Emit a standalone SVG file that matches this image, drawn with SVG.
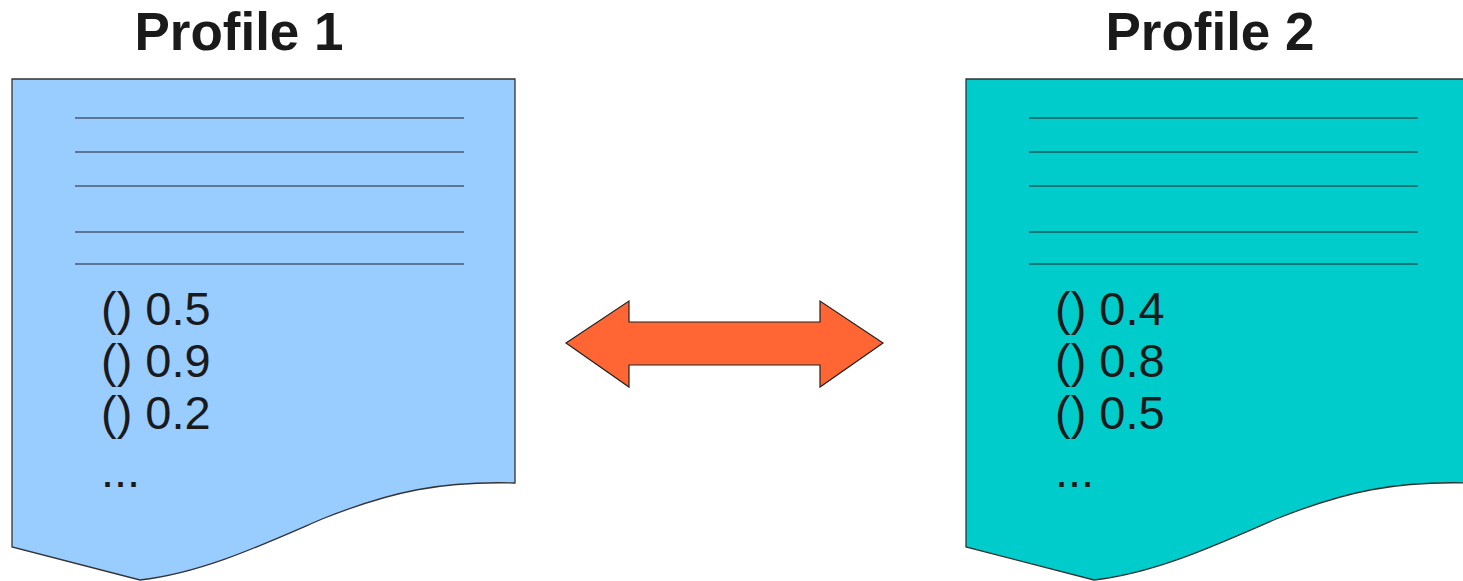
<svg xmlns="http://www.w3.org/2000/svg" width="1463" height="581" viewBox="0 0 1463 581">
  <style>
    .doc { stroke: #333333; stroke-width: 1.3; }
    .rule { stroke: #222222; stroke-width: 1.2; }
    .title { font-family: "Liberation Sans", Arial, sans-serif; font-weight: bold; font-size: 53px; fill: #1a1a1a; text-anchor: middle; }
    .val { font-family: "Liberation Sans", Arial, sans-serif; font-size: 47px; fill: #1a1a1a; }
  </style>
  <defs>
    <!-- document shape with wavy bottom edge -->
    <path id="docShape" d="M0,0 H503 V404 C430,402 380,412 310,440 C250,466 190,494 128,501 L0,468 Z"/>
    <g id="docRules">
      <line x1="63" y1="39" x2="452" y2="39"/>
      <line x1="63" y1="73" x2="452" y2="73"/>
      <line x1="63" y1="107" x2="452" y2="107"/>
      <line x1="63" y1="153" x2="452" y2="153"/>
      <line x1="63" y1="185" x2="452" y2="185"/>
    </g>
  </defs>

  <rect width="1463" height="581" fill="#ffffff"/>

  <g id="profile1">
    <text class="title" x="239" y="50">Profile 1</text>
    <use href="#docShape" x="12" y="79" class="doc" fill="#99ccff"/>
    <use href="#docRules" x="12" y="79" class="rule"/>
    <text class="val" x="101" y="325">() 0.5</text>
    <text class="val" x="101" y="377">() 0.9</text>
    <text class="val" x="101" y="429">() 0.2</text>
    <text class="val" x="101" y="487">...</text>
  </g>

  <g id="profile2">
    <text class="title" x="1210" y="50">Profile 2</text>
    <use href="#docShape" x="966" y="79" class="doc" fill="#00cccc"/>
    <use href="#docRules" x="966" y="79" class="rule"/>
    <text class="val" x="1055" y="325">() 0.4</text>
    <text class="val" x="1055" y="377">() 0.8</text>
    <text class="val" x="1055" y="429">() 0.5</text>
    <text class="val" x="1055" y="487">...</text>
  </g>

  <g id="connectors">
    <!-- double-headed comparison arrow -->
    <polygon points="566,343 629,301 629,322 820,322 820,301 883,343 820,387 820,365 629,365 629,387" fill="#ff6633" stroke="#222222" stroke-width="1.2" stroke-linejoin="miter"/>
  </g>
</svg>
